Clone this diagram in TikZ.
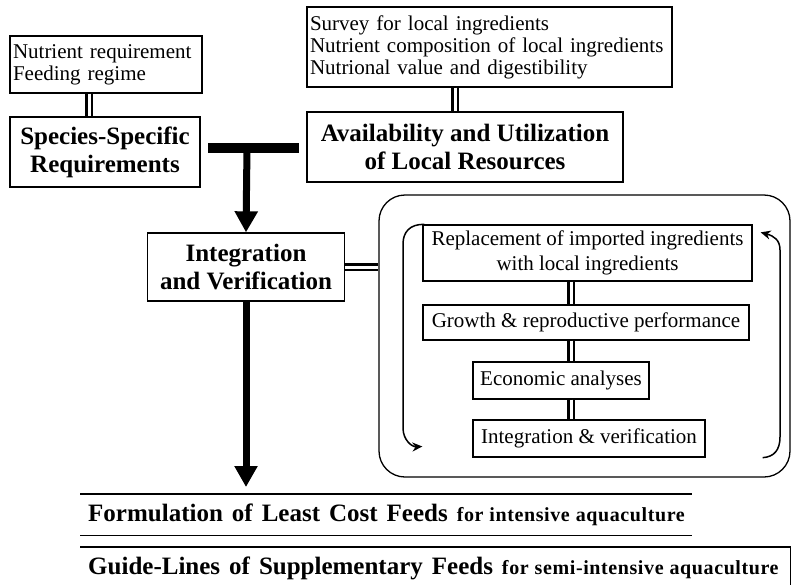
\documentclass[tikz,border=0pt]{standalone}
\usepackage{fontspec}
\setmainfont{Liberation Serif}
\usetikzlibrary{arrows.meta}

\newcommand\plaintxt{\fontsize{21pt}{22pt}\selectfont}
\newcommand\headtxt{\fontsize{25pt}{28pt}\selectfont\bfseries}
\newcommand\looptxt{\fontsize{21pt}{25pt}\selectfont}
\newcommand\feedtxt{\fontsize{25pt}{28pt}\selectfont\bfseries\spaceskip=9pt}
\newcommand\subtxt{\fontsize{20pt}{22pt}\selectfont\bfseries\addfontfeature{LetterSpace=3}\spaceskip=6pt}

\tikzset{
  box/.style={draw, line width=1.3pt, inner sep=3pt, align=center},
  listbox/.style={box, align=left, font=\plaintxt},
  headbox/.style={box, font=\headtxt},
  stepbox/.style={box, font=\looptxt},
  loopframe/.style={draw, line width=1.3pt, rounded corners=26pt},
  dbl/.style={line width=2.5pt, double, double distance=3pt},
  barline/.style={line width=10pt},
  bigarrow/.style={line width=7pt, -{Triangle[width=22pt,length=21pt]}},
  cyc/.style={line width=1.5pt, -{Stealth[length=10pt,width=9pt]}},
  rule/.style={line width=1.3pt}
}

\begin{document}
\begin{tikzpicture}[x=1pt,y=-1pt]
\useasboundingbox (0,0) rectangle (792,584);

% inputs
\node[listbox, text width=186pt, minimum height=57] (need) at (106,64.5)
  {Nutrient requirement\\Feeding regime};
\node[headbox, minimum width=190, minimum height=70] (species) at (105,152)
  {Species-Specific\\Requirements};
\node[listbox, text width=359pt, minimum height=80] (survey) at (489.5,47)
  {Survey for local ingredients\\Nutrient composition of local ingredients\\Nutrional value and digestibility};
\node[headbox, minimum width=316, minimum height=70] (local) at (465,147)
  {Availability and Utilization\\of Local Resources};
\node[headbox, minimum width=197, minimum height=68] (integ) at (246,267)
  {Integration\\and Verification};

% loop
\node[loopframe, minimum width=411, minimum height=282] (loop) at (584.5,336) {};
\node[stepbox, minimum width=329, minimum height=56] (replace) at (587.5,253)
  {Replacement of imported ingredients\\with local ingredients};
\node[stepbox, minimum width=326, minimum height=35] (growth) at (586,322.5)
  {Growth \& reproductive performance};
\node[stepbox, minimum width=176, minimum height=37] (econ) at (561,380.5)
  {Economic analyses};
\node[stepbox, minimum width=232, minimum height=37] (verify) at (589,438.5)
  {Integration \& verification};

% outputs
\node[anchor=north west, text width=596pt, inner xsep=8pt, inner ysep=0pt,
  minimum height=41, align=left] (least) at (80,494)
  {\mbox{\feedtxt Formulation of Least Cost Feeds \subtxt for intensive aquaculture}};
\node[anchor=north west, text width=694pt, inner xsep=8pt, inner ysep=0pt,
  minimum height=42, align=left] (guide) at (80,547)
  {\mbox{\feedtxt Guide-Lines of Supplementary Feeds \subtxt for semi-intensive aquaculture}};

% links
\draw[dbl] ([xshift=-17pt]need.south) -- ([xshift=-16pt]species.north);
\draw[dbl] ([xshift=-34.5pt]survey.south) -- ([xshift=-10pt]local.north);

\coordinate (barL) at (208,148);
\coordinate (barR) at (299,148);
\coordinate (bar) at (247,148);
\draw[barline] (barL) -- (barR);
\draw[bigarrow] (bar) -- (integ.north);
\draw[bigarrow, shorten >=7pt] (integ.south) -- (integ.south |- least.north);

\draw[dbl] (integ.east) -- (integ.east -| loop.west);

\draw[dbl] ([xshift=-16.5pt]replace.south) -- ([xshift=-15pt]growth.north);
\draw[dbl] ([xshift=-15pt]growth.south) -- ([xshift=10pt]econ.north);
\draw[dbl] ([xshift=10pt]econ.south) -- ([xshift=-18pt]verify.north);

\draw[cyc] ([xshift=2pt]replace.north west) .. controls (410,224) and (403,232) .. (403,244)
  -- (403,428) .. controls (403,440) and (412,447) .. ([xshift=-50pt,yshift=-8pt]verify.west);
\draw[cyc] ([xshift=57pt]verify.south east) .. controls (774,457) and (780,450) .. (780,437)
  -- (780,250) .. controls (780,240) and (774,236) .. ([xshift=8pt,yshift=-8pt]replace.north east);

\draw[rule] (least.north west) -- (least.north east);
\draw[rule] (least.south west) -- (least.south east);
\draw[rule] (guide.north west) -- (guide.north east) -- (guide.south east);
\end{tikzpicture}
\end{document}
